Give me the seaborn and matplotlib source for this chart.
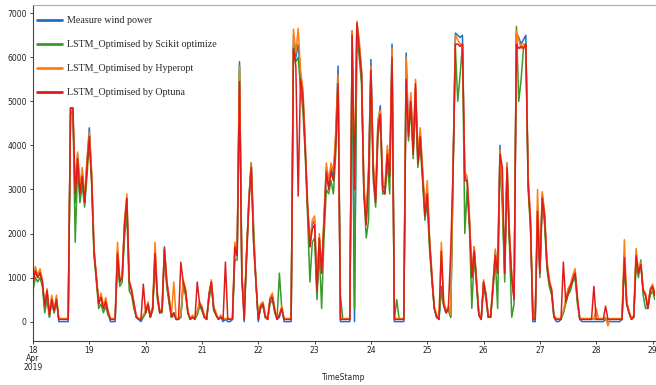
import pandas as pd
import numpy as np
import matplotlib
matplotlib.use("Agg")
import matplotlib.pyplot as plt
import matplotlib.dates as mdates
from matplotlib.ticker import FuncFormatter
import seaborn as sns

# hourly values, 2019-04-18 00:00 onwards
start = "2019-04-18 00:00"
labels = ["Measure wind power", "LSTM_Optimised by Scikit optimize",
          "LSTM_Optimised by Hyperopt", "LSTM_Optimised by Optuna"]
colors = ["#1f6fc5", "#3a9a2a", "#ff7f0e", "#e01b1b"]
yticks = [0, 1000, 2000, 3000, 4000, 5000, 6000, 7000]

measured = [
    900, 1200, 1000, 1150, 900, 300, 700, 100, 550, 200, 550, 0, 0, 0, 0, 0, 4850, 4850, 2700, 3800, 3000, 3400, 2700, 3600,
    4400, 3300, 1600, 1000, 400, 600, 300, 500, 200, 0, 0, 0, 1600, 900, 1000, 2200, 2800, 900, 700, 400, 100, 50, 0, 100,
    200, 400, 100, 300, 1500, 600, 200, 250, 1700, 900, 500, 100, 200, 50, 50, 100, 900, 700, 200, 50, 100, 50, 200, 400,
    300, 100, 50, 600, 900, 300, 150, 50, 100, 0, 50, 0, 0, 50, 1600, 1500, 5900, 1100, 0, 1500, 2800, 3600, 1800, 900,
    0, 350, 400, 100, 50, 500, 600, 250, 50, 100, 300, 0, 0, 0, 0, 6500, 6000, 6300, 5600, 5200, 4000, 2600, 1700, 2200,
    2300, 700, 1900, 1100, 2300, 3500, 3100, 3500, 3300, 4200, 5800, 0, 0, 0, 0, 0, 6600, 0, 6800, 6300, 5700, 3000, 2300, 3400,
    5950, 3500, 2800, 4500, 4900, 3100, 3000, 3900, 3400, 6300, 0, 0, 0, 0, 0, 6100, 4300, 5100, 3900, 5300, 3700, 4300, 3400, 2500,
    3000, 1800, 1000, 300, 100, 50, 800, 400, 200, 300, 100, 3500, 6550, 6500, 6450, 6500, 3300, 3200, 2300, 1000, 1700, 900, 150, 50,
    900, 600, 100, 100, 800, 1600, 1100, 4000, 2800, 1100, 3600, 2000, 1000, 500, 6550, 6450, 6300, 6400, 6500, 3200, 2300, 0, 0, 2600,
    1100, 2900, 2400, 1300, 900, 700, 100, 0, 0, 50, 200, 450, 700, 800, 1000, 1150, 500, 50, 0, 0, 0, 0, 0, 0,
    0, 0, 0, 0, 50, 0, 0, 0, 0, 0, 0, 50, 1500, 400, 200, 50, 100, 1500, 1100, 1300, 700, 600, 300, 700,
    800, 600,
]

scikit = [
    700, 1000, 900, 1000, 800, 200, 500, 100, 450, 200, 450, 60, 60, 60, 60, 60, 4700, 4800, 1800, 3500, 2700, 3100, 2600, 3300,
    4100, 3100, 1500, 900, 300, 400, 200, 350, 150, 60, 60, 60, 1300, 800, 900, 1900, 2500, 700, 600, 300, 100, 60, 60, 100,
    200, 350, 100, 250, 1400, 500, 200, 200, 1500, 800, 400, 100, 150, 60, 60, 100, 800, 600, 200, 60, 100, 60, 150, 350,
    250, 100, 60, 500, 800, 250, 150, 60, 100, 60, 60, 60, 60, 60, 1400, 1400, 5800, 900, 400, 1400, 2700, 3600, 2200, 900,
    60, 300, 350, 100, 60, 400, 500, 200, 60, 1100, 300, 60, 60, 60, 60, 6300, 5900, 6000, 5300, 4800, 3800, 2400, 900, 1800,
    1900, 500, 1600, 300, 1900, 3000, 2900, 3200, 2900, 3800, 5500, 600, 60, 60, 60, 60, 6400, 300, 6500, 6000, 5400, 2900, 1900, 2300,
    5600, 3200, 2600, 4200, 4600, 2900, 2900, 3600, 2900, 6000, 60, 500, 60, 60, 60, 5800, 4100, 4900, 3700, 5000, 3500, 4000, 3200, 2300,
    2700, 1600, 900, 300, 100, 60, 700, 350, 200, 250, 100, 3300, 6200, 5000, 5600, 6300, 2000, 3000, 2100, 300, 1500, 800, 150, 60,
    800, 500, 100, 100, 700, 1400, 300, 3800, 2600, 900, 3400, 1800, 100, 400, 6700, 5000, 5500, 6200, 6300, 3000, 2100, 300, 60, 2400,
    1000, 2700, 2200, 1200, 800, 600, 100, 60, 60, 60, 200, 400, 600, 700, 900, 1000, 400, 60, 60, 60, 60, 60, 60, 60,
    60, 60, 60, 60, 60, 60, 60, 60, 60, 60, 60, 60, 1300, 400, 200, 60, 100, 1300, 1000, 1400, 600, 300, 300, 600,
    700, 500,
]

hyperopt = [
    850, 1250, 1050, 1200, 950, 350, 750, 150, 600, 250, 600, 70, 70, 70, 70, 70, 4850, 4850, 3000, 3850, 3100, 3500, 2800, 3700,
    4300, 3400, 1700, 1050, 450, 650, 350, 550, 250, 70, 70, 70, 1800, 950, 1050, 2300, 2900, 950, 750, 450, 150, 70, 70, 150,
    250, 450, 150, 350, 1800, 650, 250, 300, 1650, 950, 550, 150, 900, 70, 70, 150, 950, 750, 250, 70, 150, 70, 250, 450,
    350, 150, 70, 650, 950, 350, 200, 70, 150, 70, 70, 70, 70, 70, 1800, 1600, 5800, 1200, 70, 1600, 2800, 3600, 1900, 950,
    70, 400, 450, 150, 70, 550, 650, 300, 70, 150, 350, 70, 70, 70, 70, 6640, 6100, 6660, 5700, 5300, 4100, 2700, 1800, 2300,
    2400, 800, 2000, 1200, 2400, 3600, 3200, 3600, 3400, 4300, 5600, 70, 70, 70, 70, 70, 6600, 3100, 6820, 6400, 5700, 3100, 2400, 3500,
    5800, 3600, 2900, 4600, 4800, 3200, 3100, 4000, 3500, 6200, 70, 70, 70, 70, 70, 6000, 4400, 5200, 4000, 5500, 3800, 4400, 3500, 2600,
    3200, 1900, 1100, 350, 150, 70, 1800, 450, 250, 350, 150, 3600, 6500, 6400, 6300, 6300, 3400, 3300, 2400, 1100, 1700, 950, 200, 70,
    950, 650, 150, 150, 850, 1650, 1150, 3900, 2900, 1200, 3600, 2100, 1050, 550, 6600, 6400, 6200, 6300, 6300, 3300, 2400, 70, 70, 3000,
    1200, 2950, 2500, 1400, 950, 750, 150, 70, 70, 70, 250, 500, 750, 850, 1050, 1200, 550, 70, 70, 70, 70, 70, 70, 70,
    300, 70, 70, 70, 100, -100, 70, 70, 70, 70, 70, 70, 1860, 450, 250, 70, 150, 1660, 1150, 1350, 750, 650, 350, 750,
    850, 650,
]

optuna = [
    850, 1150, 1000, 1100, 900, 350, 700, 150, 500, 250, 500, 50, 50, 50, 50, 50, 4850, 4850, 2900, 3700, 2900, 3300, 2700, 3500,
    4200, 3200, 1600, 1000, 400, 550, 300, 450, 200, 50, 50, 50, 1550, 900, 1000, 2200, 2800, 900, 700, 400, 100, 50, 50, 850,
    200, 400, 100, 300, 1550, 600, 200, 250, 1650, 900, 500, 100, 200, 50, 50, 1350, 900, 700, 200, 50, 100, 50, 900, 400,
    300, 100, 50, 600, 900, 300, 150, 50, 100, 50, 1350, 50, 50, 50, 1700, 1500, 5450, 1000, 50, 1500, 2700, 3500, 1800, 900,
    50, 350, 400, 100, 50, 500, 550, 250, 50, 150, 300, 50, 50, 50, 50, 6200, 5800, 2850, 5500, 5100, 3900, 2600, 1700, 2100,
    2200, 700, 1900, 1100, 2200, 3400, 3000, 3400, 3200, 4000, 5400, 50, 50, 50, 50, 50, 6500, 3000, 6770, 6200, 5600, 2900, 2200, 3300,
    5700, 3400, 2700, 4400, 4700, 3000, 2900, 3800, 3300, 6000, 50, 50, 50, 50, 50, 5500, 4200, 5000, 3800, 5400, 3600, 4200, 3300, 2400,
    2900, 1800, 1000, 300, 100, 50, 1600, 400, 200, 300, 1600, 3400, 6300, 6300, 6250, 6300, 3200, 3200, 2200, 1000, 1600, 900, 150, 50,
    900, 600, 100, 100, 800, 1500, 1100, 3800, 3500, 1100, 3500, 1900, 1000, 500, 6300, 6200, 6250, 6200, 6300, 3100, 2200, 50, 50, 2500,
    1100, 2800, 2400, 1300, 900, 700, 100, 50, 50, 50, 1350, 450, 650, 800, 950, 1100, 500, 50, 50, 50, 50, 50, 50, 800,
    50, 50, 50, 50, 350, 50, 50, 50, 50, 50, 50, 50, 1450, 400, 200, 50, 100, 1500, 1100, 1300, 700, 600, 300, 700,
    800, 600,
]


def day_label(x, pos):
    d = mdates.num2date(x)
    if d.day == 18:
        return d.strftime("%d\n%b\n%Y")
    return d.strftime("%d")


def main():
    ts = pd.date_range(start, periods=len(measured), freq="h")
    frames = []
    for lab, vals in zip(labels, [measured, scikit, hyperopt, optuna]):
        frames.append(pd.DataFrame({"TimeStamp": ts, "power": vals, "model": lab}))
    df = pd.concat(frames, ignore_index=True)

    sns.set_style("ticks")
    fig = plt.figure(figsize=(6.56, 3.85), dpi=100)
    ax = fig.add_axes([0.0503, 0.1143, 0.948, 0.873])
    sns.lineplot(data=df, x="TimeStamp", y="power", hue="model", hue_order=labels,
                 palette=colors, linewidth=1.1, estimator=None, ax=ax)

    ax.set_xlim(ts[0], ts[-1])
    ax.set_ylim(-440, 7190)
    ax.set_yticks(yticks)
    ax.xaxis.set_major_locator(mdates.DayLocator())
    ax.xaxis.set_major_formatter(FuncFormatter(day_label))
    ax.xaxis.set_minor_locator(plt.NullLocator())
    ax.tick_params(labelsize=5.5, length=2.5, width=0.6, pad=2, colors="#222222")
    ax.tick_params(axis="x", pad=1.2)
    ax.set_xlabel("TimeStamp", fontsize=5.5, labelpad=1)
    ax.set_ylabel("")

    for s in ["left", "bottom"]:
        ax.spines[s].set_color("#444444")
        ax.spines[s].set_linewidth(0.8)
    ax.spines["top"].set_color("#aaaaaa")
    ax.spines["top"].set_linewidth(0.8)
    ax.spines["right"].set_visible(False)

    handles, labs = ax.get_legend_handles_labels()
    leg = ax.legend(handles, labs, loc="upper left", bbox_to_anchor=(0.0, 0.978),
                    frameon=False, prop={"family": "Liberation Serif", "size": 7.2},
                    labelspacing=1.5, handlelength=2.5, handletextpad=0.5,
                    borderaxespad=0.0)
    for line in leg.get_lines():
        line.set_linewidth(2.0)

    fig.canvas.draw()
    for t in ax.get_xticklabels():
        t.set_linespacing(0.9)

    fig.savefig("out.png", dpi=100)


if __name__ == "__main__":
    main()
